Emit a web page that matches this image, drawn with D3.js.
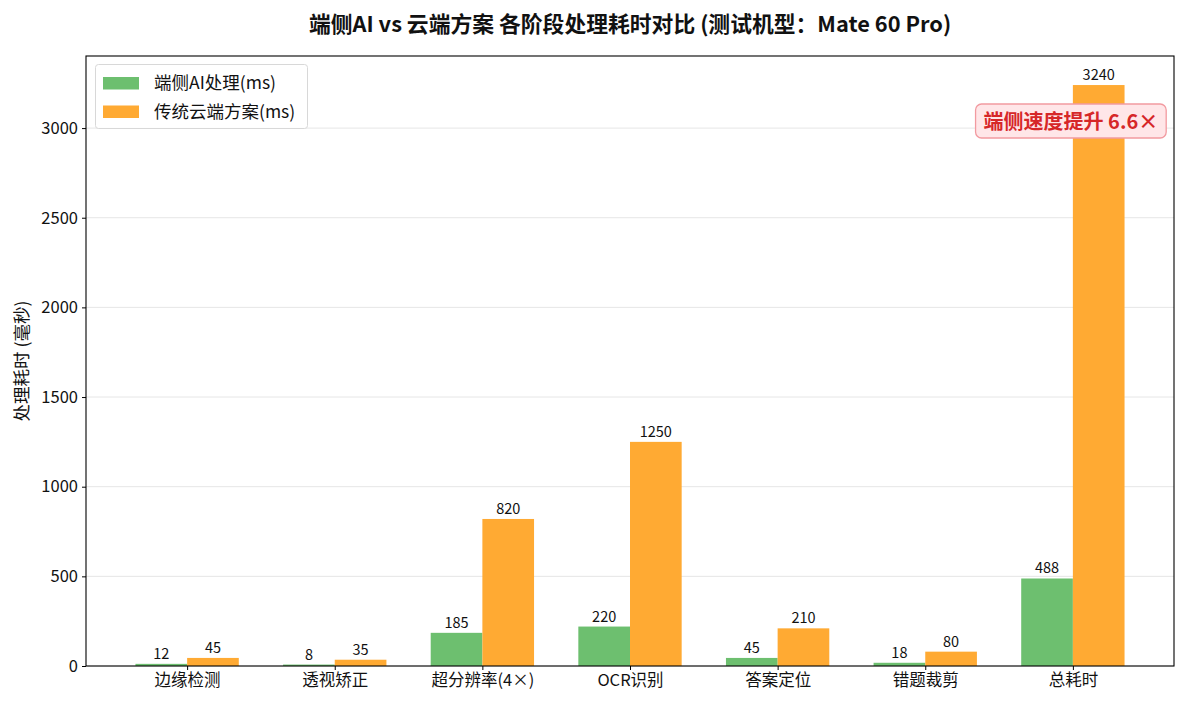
<!DOCTYPE html>
<html><head><meta charset="utf-8">
<script src="https://cdn.jsdelivr.net/npm/d3@7"></script>
<style>
body{margin:0;background:#fff;}
text{font-family:"Noto Sans CJK SC","Noto Sans",sans-serif;}
</style></head>
<body><svg id="c" width="1186" height="708"></svg>
<script>
const categories = ["边缘检测","透视矫正","超分辨率(4×)","OCR识别","答案定位","错题裁剪","总耗时"];
const edgeValues = [12, 8, 185, 220, 45, 18, 488];
const cloudValues = [45, 35, 820, 1250, 210, 80, 3240];
const yTicks = [0, 500, 1000, 1500, 2000, 2500, 3000];
const seriesNames = ["端侧AI处理(ms)", "传统云端方案(ms)"];
const colors = ["#6dbf6f", "#ffaa33"];

const svg = d3.select("#c");
const L = 86, R = 1174, T = 56, B = 666;
const barW = 0.35;
const n = categories.length;
const x = d3.scaleLinear().domain([-0.35 - 0.335, 6.35 + 0.335]).range([L, R]);
const y = d3.scaleLinear().domain([0, 3240 * 1.05]).range([B, T]);

// grid
svg.append("g").selectAll("line").data(yTicks).join("line")
  .attr("x1", L).attr("x2", R).attr("y1", d => y(d)).attr("y2", d => y(d))
  .attr("stroke", "#e6e6e6").attr("stroke-width", 1);

const series = [edgeValues, cloudValues];
series.forEach((vals, s) => {
  const off = s === 0 ? -barW/2 : barW/2;
  const g = svg.append("g");
  g.selectAll("rect").data(vals).join("rect")
    .attr("x", (d, i) => x(i + off - barW/2))
    .attr("width", x(barW) - x(0))
    .attr("y", d => y(d))
    .attr("height", d => B - y(d))
    .attr("fill", colors[s]);
  g.selectAll("text").data(vals).join("text")
    .attr("x", (d, i) => x(i + off))
    .attr("y", d => y(d) - 5)
    .attr("text-anchor", "middle")
    .attr("font-size", 14.5).attr("fill", "#111")
    .text(d => d);
});

// axes
const yAxis = d3.axisLeft(y).tickValues(yTicks).tickFormat(d3.format("d")).tickSize(4).tickPadding(4);
const yg = svg.append("g").attr("transform", `translate(${L},0)`).call(yAxis);
yg.select(".domain").remove();
yg.selectAll("text").attr("font-size", 16.5).attr("fill", "#111");
yg.selectAll("line").attr("stroke", "#000");

const xAxis = d3.axisBottom(x).tickValues(d3.range(n)).tickFormat(i => categories[i]).tickSize(4).tickPadding(4);
const xg = svg.append("g").attr("transform", `translate(0,${B})`).call(xAxis);
xg.select(".domain").remove();
xg.selectAll("text").attr("font-size", 16.5).attr("fill", "#111");
xg.selectAll("line").attr("stroke", "#000");

svg.append("rect").attr("x", L).attr("y", T).attr("width", R - L).attr("height", B - T)
  .attr("fill", "none").attr("stroke", "#000").attr("stroke-width", 1.1);

// title
svg.append("text").attr("x", (L + R)/2).attr("y", 32).attr("text-anchor", "middle")
  .attr("font-size", 21.8).attr("font-weight", "bold").attr("fill", "#111")
  .text("端侧AI vs 云端方案 各阶段处理耗时对比 (测试机型：Mate 60 Pro)");

// y label
svg.append("text").attr("transform", `translate(28,${(T + B)/2}) rotate(-90)`)
  .attr("text-anchor", "middle").attr("font-size", 17.5).attr("fill", "#111")
  .text("处理耗时 (毫秒)");

// legend
const lg = svg.append("g");
lg.append("rect").attr("x", 95.5).attr("y", 64.5).attr("width", 212).attr("height", 64)
  .attr("rx", 3).attr("fill", "#fff").attr("fill-opacity", 0.85).attr("stroke", "#d8d8d8");
seriesNames.forEach((nm, i) => {
  lg.append("rect").attr("x", 103).attr("y", 77 + i * 28.5).attr("width", 36).attr("height", 12.5).attr("fill", colors[i]);
  lg.append("text").attr("x", 154).attr("y", 89 + i * 28.5).attr("font-size", 17.5).attr("fill", "#111").text(nm);
});

// annotation
const ag = svg.append("g");
const ax = x(6) - 2, ay = 121;
const at = ag.append("text").attr("x", ax).attr("y", ay + 7.5).attr("text-anchor", "middle")
  .attr("font-size", 20).attr("font-weight", "bold").attr("fill", "#d62728")
  .text("端侧速度提升 6.6×");
const bb = at.node().getBBox();
ag.insert("rect", "text").attr("x", bb.x - 8).attr("y", ay - 17).attr("width", bb.width + 16).attr("height", 34)
  .attr("rx", 6).attr("fill", "#ffe6e8").attr("stroke", "#f29aa0").attr("stroke-width", 1.3);
</script></body></html>
